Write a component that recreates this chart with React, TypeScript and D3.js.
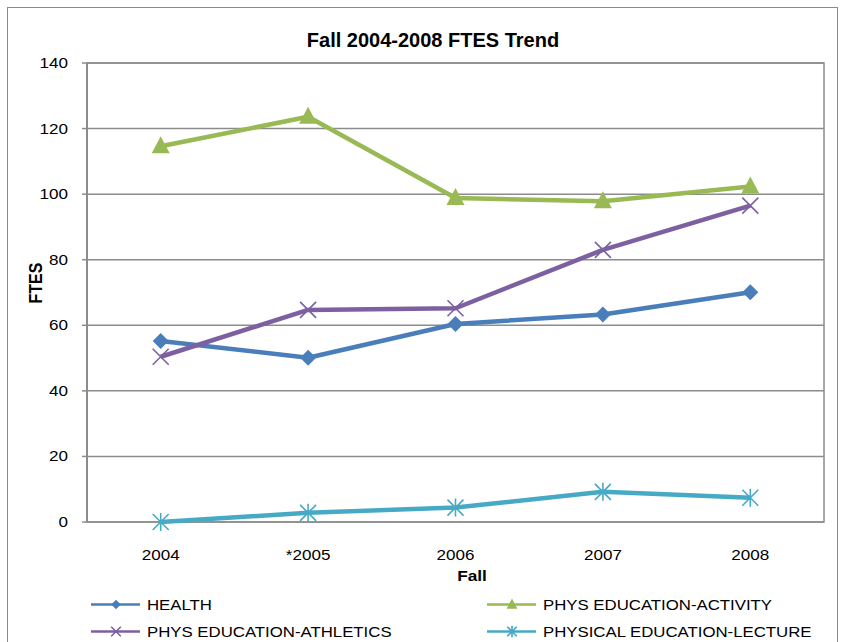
import React from 'react';
import * as d3 from 'd3';

// Fall FTES by program
const years = ['2004', '*2005', '2006', '2007', '2008'];
const health = [55.2, 50.1, 60.4, 63.3, 70.1];
const physActivity = [114.6, 123.6, 98.8, 97.8, 102.3];
const physAthletics = [50.4, 64.7, 65.2, 83.0, 96.5];
const physLecture = [0, 2.8, 4.4, 9.2, 7.4];
const yTicks = [0, 20, 40, 60, 80, 100, 120, 140];

const seriesNames = ['HEALTH', 'PHYS EDUCATION-ACTIVITY', 'PHYS EDUCATION-ATHLETICS', 'PHYSICAL EDUCATION-LECTURE'];
const seriesValues = [health, physActivity, physAthletics, physLecture];
const colors = ['#4a7ebb', '#98b954', '#7d60a0', '#46aac5'];
const markers = ['diamond', 'triangle', 'x', 'star'];

const W = 843;
const H = 642;
const plot = { left: 87, right: 824, top: 63, bottom: 522 };
const font = '"Liberation Sans", Arial, sans-serif';
const grid = '#8c8c8c';

const x = d3.scalePoint<string>().domain(years).range([plot.left, plot.right]).padding(0.5);
const y = d3.scaleLinear().domain([0, 140]).range([plot.bottom, plot.top]);

// text in the reference is stretched sideways, so scale it on x
const Txt = ({ x, y, sx = 1, size, bold, anchor = 'start', rotate = 0, children }: any) => (
  <text transform={`translate(${x},${y}) scale(${sx},1)${rotate ? ` rotate(${rotate})` : ''}`}
    textAnchor={anchor} fontSize={size} fontWeight={bold ? 'bold' : 'normal'} fill="#000">
    {children}
  </text>
);

const Marker = ({ kind, cx, cy, color, k = 1 }: { kind: string; cx: number; cy: number; color: string; k?: number }) => {
  if (kind === 'diamond') {
    const s = 8 * k;
    return <path d={`M${cx},${cy - s}L${cx + s},${cy}L${cx},${cy + s}L${cx - s},${cy}Z`} fill={color} />;
  }
  if (kind === 'triangle') {
    return <path d={`M${cx},${cy - 10 * k}L${cx + 9 * k},${cy + 7 * k}L${cx - 9 * k},${cy + 7 * k}Z`} fill={color} />;
  }
  const s = 8 * k;
  if (kind === 'x') {
    return (
      <path d={`M${cx - s},${cy - s}L${cx + s},${cy + s}M${cx - s},${cy + s}L${cx + s},${cy - s}`}
        stroke={color} strokeWidth={1.6} fill="none" />
    );
  }
  return (
    <path d={`M${cx - s},${cy - s}L${cx + s},${cy + s}M${cx - s},${cy + s}L${cx + s},${cy - s}M${cx},${cy - s - 1}L${cx},${cy + s + 1}`}
      stroke={color} strokeWidth={1.6} fill="none" />
  );
};

const App = () => {
  const line = d3.line<number>()
    .x((_, i) => x(years[i]) as number)
    .y(d => y(d));

  const legendItems = seriesNames.map((name, i) => ({
    name,
    lx: i % 2 === 0 ? 91 : 487,
    ly: i < 2 ? 604.5 : 631.5,
    i,
  }));

  return (
    <svg width={W} height={H} style={{ position: 'absolute', left: 0, top: 0, fontFamily: font }}>
      <rect x={0} y={0} width={W} height={H} fill="#fff" />
      <rect x={7.5} y={7.5} width={830} height={660} fill="none" stroke="#8a8a8a" strokeWidth={1} />

      <Txt x={433} y={47} size={20} bold anchor="middle">Fall 2004-2008 FTES Trend</Txt>

      {/* gridlines */}
      {yTicks.map(t => (
        <line key={t} x1={plot.left} x2={plot.right} y1={y(t)} y2={y(t)} stroke={grid} strokeWidth={1.5} />
      ))}
      <rect x={plot.left} y={plot.top} width={plot.right - plot.left} height={plot.bottom - plot.top}
        fill="none" stroke={grid} strokeWidth={1.5} />
      <line x1={plot.left} x2={plot.left} y1={plot.top} y2={plot.bottom} stroke={grid} strokeWidth={2} />

      {/* y ticks */}
      {yTicks.map(t => (
        <g key={t}>
          <line x1={plot.left - 5} x2={plot.left} y1={y(t)} y2={y(t)} stroke={grid} strokeWidth={1.5} />
          <Txt x={68} y={y(t) + 5} sx={1.22} size={14} anchor="end">{t}</Txt>
        </g>
      ))}
      <Txt x={42} y={283} sx={1.2} size={16} bold anchor="middle" rotate={-90}>FTES</Txt>

      {/* x labels */}
      {years.map(yr => (
        <Txt key={yr} x={x(yr)} y={560} sx={1.22} size={14} anchor="middle">{yr}</Txt>
      ))}
      <Txt x={472} y={581} sx={1.15} size={15} bold anchor="middle">Fall</Txt>

      {/* series */}
      {seriesValues.map((vals, i) => (
        <g key={seriesNames[i]}>
          <path d={line(vals) || ''} fill="none" stroke={colors[i]} strokeWidth={4.5} strokeLinejoin="round" />
          {vals.map((v, j) => (
            <Marker key={j} kind={markers[i]} cx={x(years[j]) as number} cy={y(v)} color={colors[i]} />
          ))}
        </g>
      ))}

      {/* legend */}
      {legendItems.map(d => (
        <g key={d.name}>
          <line x1={d.lx} x2={d.lx + 49} y1={d.ly} y2={d.ly} stroke={colors[d.i]} strokeWidth={2.5} />
          <Marker kind={markers[d.i]} cx={d.lx + 25} cy={d.ly} color={colors[d.i]} k={0.6} />
          <Txt x={d.lx + 56} y={d.ly + 5.5} sx={1.12} size={15}>{d.name}</Txt>
        </g>
      ))}
    </svg>
  );
};

export default App;
